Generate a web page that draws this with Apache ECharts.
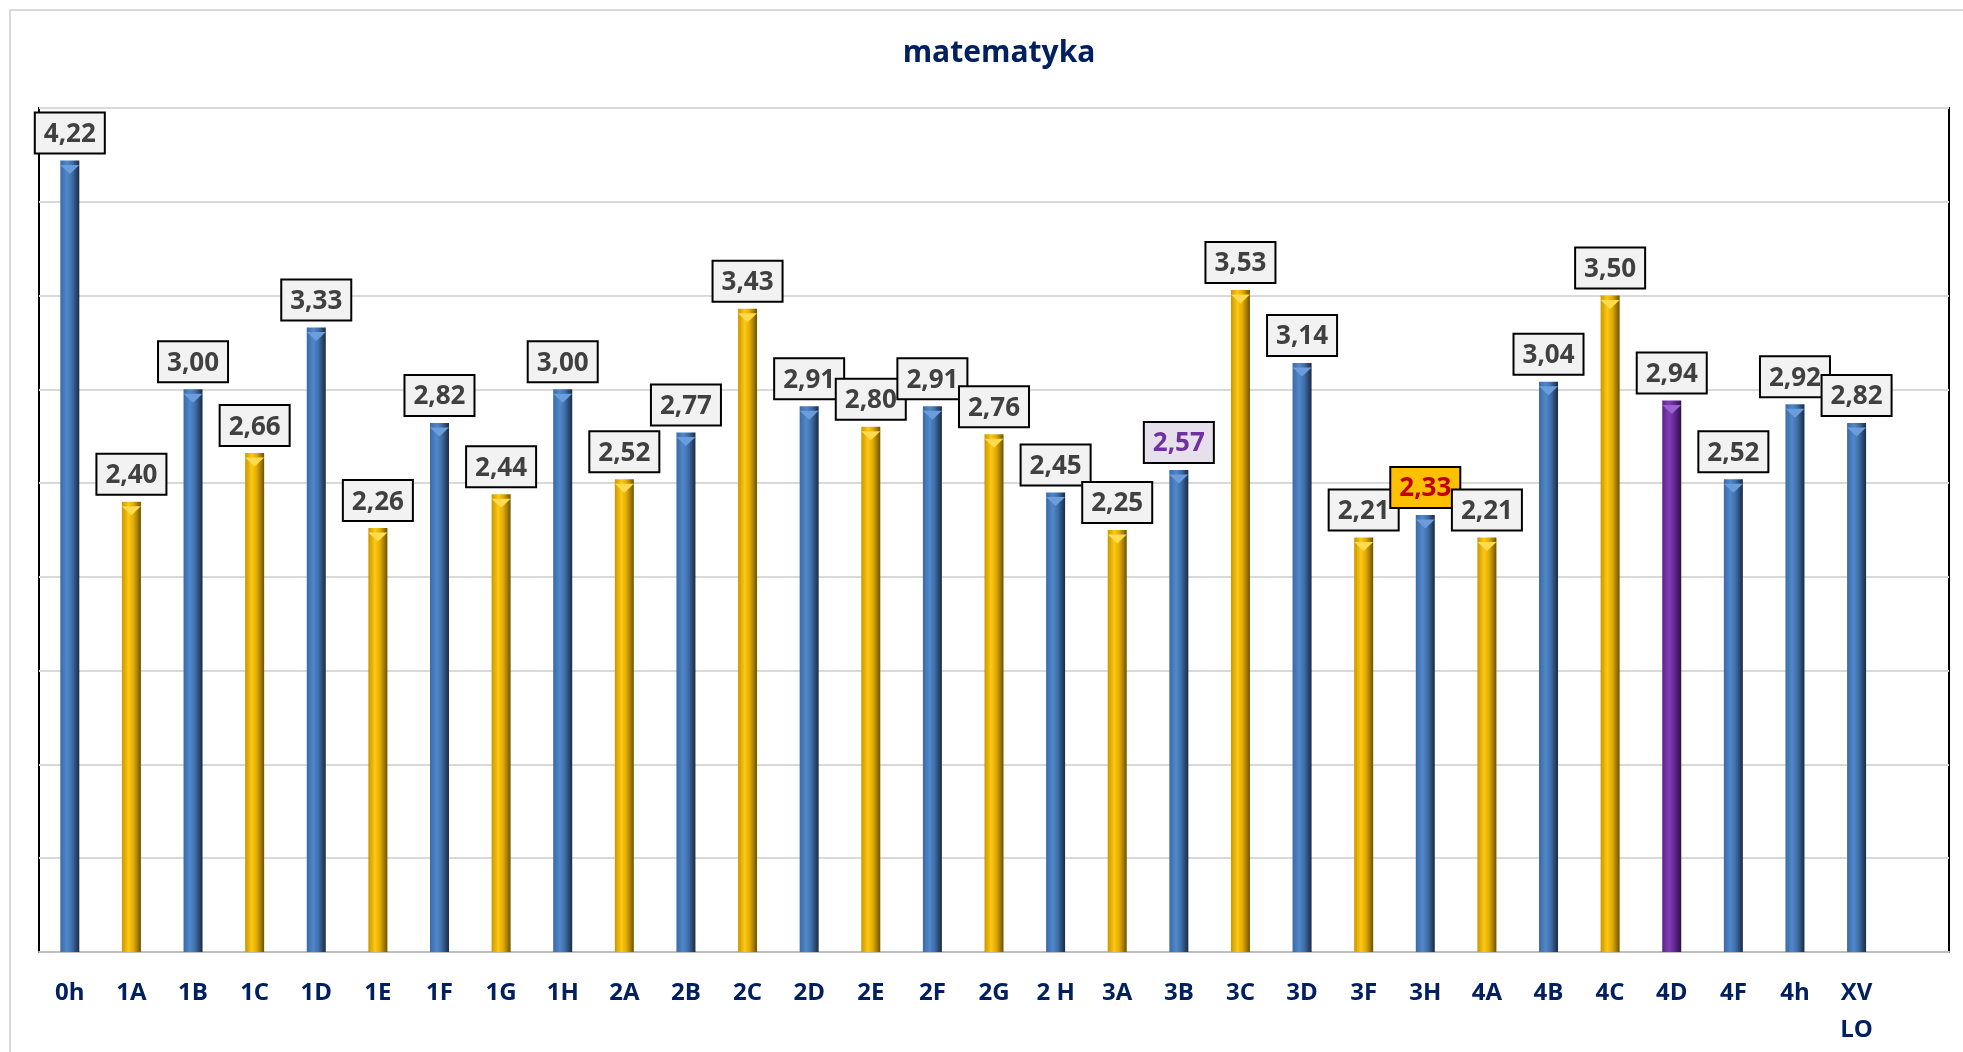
<!DOCTYPE html>
<html>
<head>
<meta charset="utf-8">
<title>matematyka</title>
<script src="https://cdn.jsdelivr.net/npm/echarts@6/dist/echarts.min.js"></script>
<style>
html, body { margin: 0; padding: 0; background: #fff; }
#chart { width: 1963px; height: 1052px; }
</style>
</head>
<body>
<div id="chart"></div>
<script>
// dane z wykresu (ostatnia kategoria pusta, jak w arkuszu)
var classes = ['0h', '1A', '1B', '1C', '1D', '1E', '1F', '1G', '1H', '2A', '2B', '2C', '2D', '2E', '2F',
	'2G', '2 H', '3A', '3B', '3C', '3D', '3F', '3H', '4A', '4B', '4C', '4D', '4F', '4h', 'XV\nLO', ''];
var averages = [4.22, 2.40, 3.00, 2.66, 3.33, 2.26, 2.82, 2.44, 3.00, 2.52, 2.77, 3.43, 2.91, 2.80, 2.91,
	2.76, 2.45, 2.25, 2.57, 3.53, 3.14, 2.21, 2.33, 2.21, 3.04, 3.50, 2.94, 2.52, 2.92, 2.82, null];
var barGroup = ['blue', 'gold', 'blue', 'gold', 'blue', 'gold', 'blue', 'gold', 'blue', 'gold', 'blue', 'gold', 'blue', 'gold', 'blue',
	'gold', 'blue', 'gold', 'blue', 'gold', 'blue', 'gold', 'blue', 'gold', 'blue', 'gold', 'purple', 'blue', 'blue', 'blue', 'blue'];
var yTicks = [0, 0.5, 1, 1.5, 2, 2.5, 3, 3.5, 4, 4.5];

var FONT = '"Open Sans", "DejaVu Sans", sans-serif';

// kolory slupkow (efekt wypuklosci)
var barColors = {
	blue: ['#3b6aa5', '#5088cc', '#3f6ea8', '#1a2b42'],
	gold: ['#c79800', '#ffc814', '#e0aa00', '#6e5200'],
	purple: ['#5c2585', '#8040b5', '#66289a', '#2e1245']
};
var capColors = { blue: '#6b9cdc', gold: '#ffdb4d', purple: '#9d62cc' };

// wyroznione etykiety
var specialLabels = {
	'3B': { color: '#7030a0', backgroundColor: '#e6e0ec' },
	'3H': { color: '#c00000', backgroundColor: '#ffc000' }
};

function gradient(c) {
	return new echarts.graphic.LinearGradient(0, 0, 1, 0, [
		{ offset: 0, color: c[0] },
		{ offset: 0.35, color: c[1] },
		{ offset: 0.62, color: c[2] },
		{ offset: 1, color: c[3] }
	]);
}

function fmt(v) {
	return v.toFixed(2).replace('.', ',');
}

var barData = averages.map(function(v, i) {
	var item = {
		value: v,
		itemStyle: { color: gradient(barColors[barGroup[i]]) }
	};
	var sp = specialLabels[classes[i]];
	if(sp)
	{
		item.label = { color: sp.color, backgroundColor: sp.backgroundColor };
	}
	return item;
});

var capData = averages.map(function(v, i) {
	return { value: v, itemStyle: { color: capColors[barGroup[i]] } };
});

var chart = echarts.init(document.getElementById('chart'));
chart.setOption({
	animation: false,
	backgroundColor: '#fff',
	title: {
		text: 'matematyka',
		left: 994,
		textAlign: 'center',
		top: 33,
		textStyle: { fontFamily: FONT, fontWeight: 'bold', fontSize: 30, color: '#002060' }
	},
	graphic: [{
		type: 'rect',
		shape: { x: 10, y: 10, width: 1970, height: 1070 },
		style: { fill: 'none', stroke: '#d9d9d9', lineWidth: 2 },
		silent: true
	}],
	grid: {
		left: 39, right: 14, top: 108, bottom: 100,
		show: true, borderColor: '#000', borderWidth: 2,
		outerBoundsMode: 'none'
	},
	xAxis: {
		type: 'category',
		data: classes,
		axisLine: { lineStyle: { color: '#bfbfbf', width: 2 } },
		axisTick: { show: false },
		axisLabel: {
			interval: 0, margin: 23, color: '#002060',
			fontFamily: FONT, fontWeight: 'bold', fontSize: 24, lineHeight: 37
		}
	},
	yAxis: {
		type: 'value',
		min: yTicks[0],
		max: yTicks[yTicks.length - 1],
		interval: yTicks[1] - yTicks[0],
		axisLine: { show: false },
		axisTick: { show: false },
		axisLabel: { show: false },
		splitLine: { lineStyle: { color: '#d9d9d9', width: 2 } }
	},
	series: [{
		type: 'bar',
		data: barData,
		barWidth: 19,
		label: {
			show: true,
			position: 'top',
			distance: 8,
			formatter: function(p) { return fmt(p.value); },
			fontFamily: FONT, fontWeight: 'bold', fontSize: 26,
			color: '#404040',
			backgroundColor: '#f2f2f2',
			borderColor: '#000', borderWidth: 2,
			padding: [8, 8, 5, 8]
		}
	}, {
		type: 'pictorialBar',
		data: capData,
		symbol: 'triangle',
		symbolRotate: 180,
		symbolSize: [19, 9],
		symbolPosition: 'end',
		symbolOffset: [0, '50%'],
		z: 3,
		silent: true
	}]
});
</script>
</body>
</html>
